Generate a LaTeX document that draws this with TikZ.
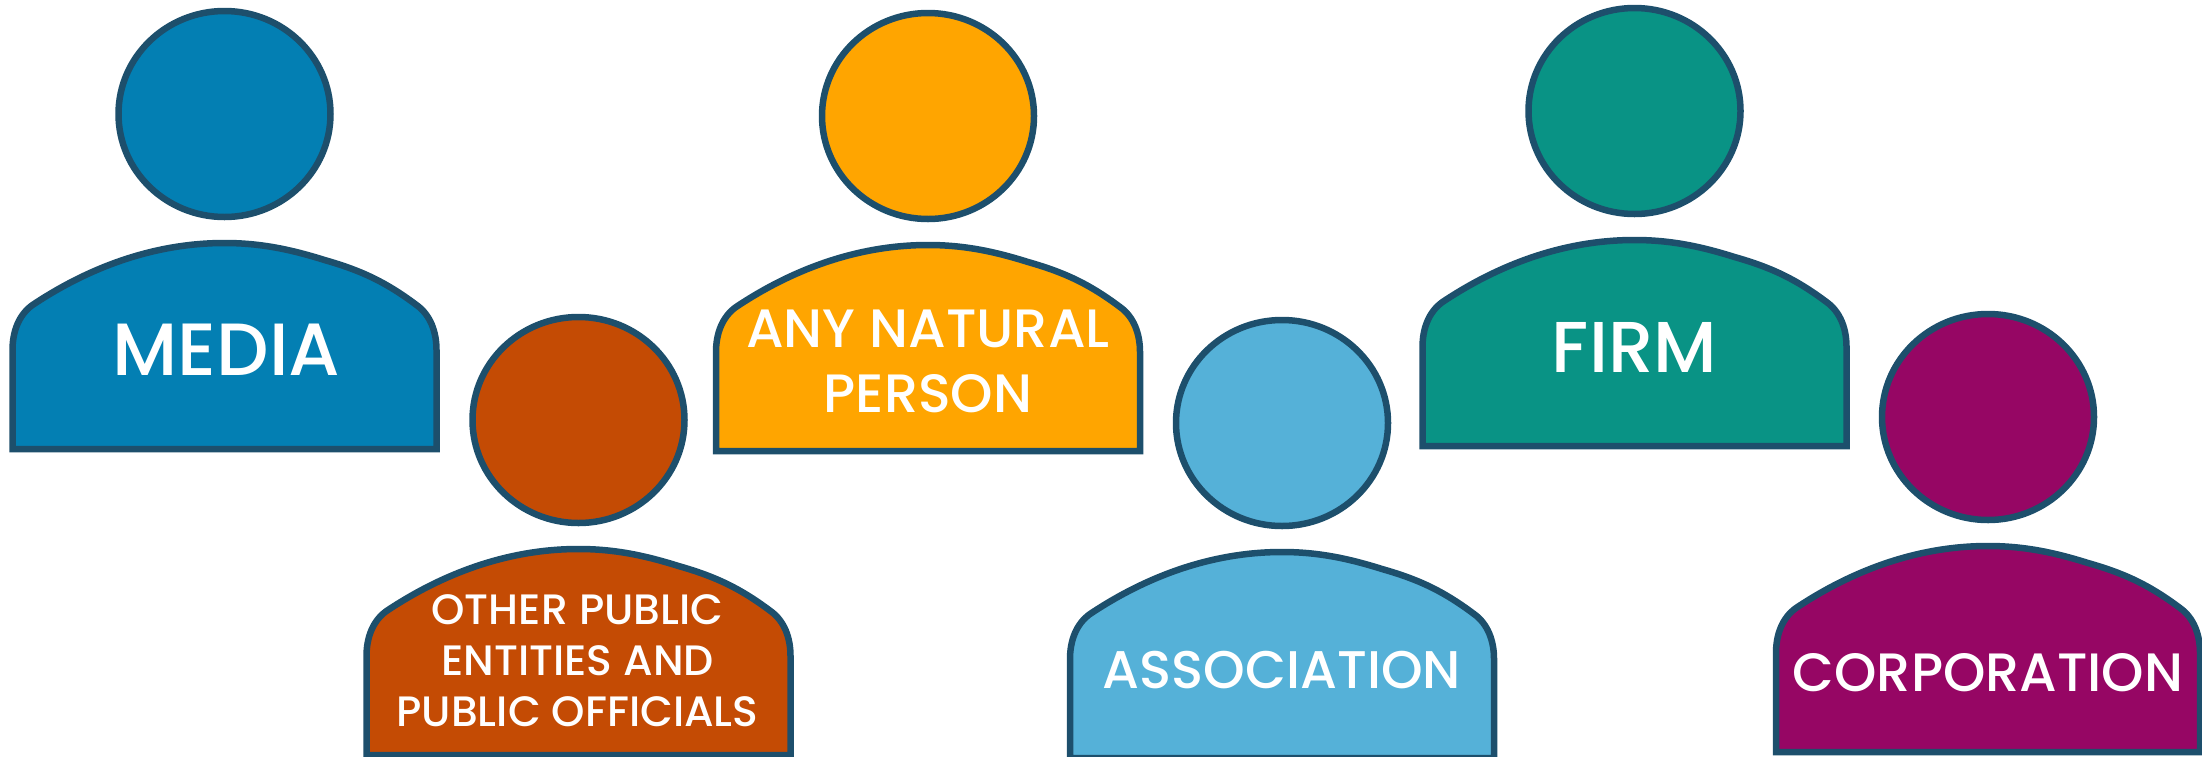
\documentclass[tikz,border=0pt]{standalone}
\usepackage{fontspec}
\setmainfont{Poppins Medium}
\definecolor{edgeblue}{HTML}{1D4F6C}
\definecolor{cmedia}{HTML}{037FB3}
\definecolor{cnatural}{HTML}{FFA500}
\definecolor{cfirm}{HTML}{099385}
\definecolor{cother}{HTML}{C44B04}
\definecolor{cassoc}{HTML}{55B1D8}
\definecolor{ccorp}{HTML}{960664}
\tikzset{
  personpart/.style={draw=edgeblue,line width=6.5pt,line join=miter},
  personlabel/.style={text=white,align=center,inner sep=0pt},
}
% #1 name, #2 cx, #3 cy (of head), #4 colour, #5 font size, #6 baseline skip, #7 label dx, #8 label dy, #9 text
\newcommand{\personfig}[9]{%
  \begin{scope}[shift={(#2,#3)}]
    \path[personpart,fill=#4] (0,0) ellipse [x radius=106,y radius=103];
    \path[personpart,fill=#4] (-212,335) -- (-212,236)
      .. controls (-212,218) and (-206,201) .. (-192,191)
      .. controls (-135,153) and (-70,129) .. (0,129)
      .. controls (35,129) and (65,135) .. (100,146)
      .. controls (135,156) and (160,167) .. (192,191)
      .. controls (206,201) and (212,218) .. (212,236)
      -- (212,335) -- cycle;
    \node[personlabel,font=\fontsize{#5}{#6}\selectfont] (#1) at (#7,#8) {#9};
  \end{scope}}
\begin{document}
\begin{tikzpicture}[x=1pt,y=-1pt]
\useasboundingbox (0,0) rectangle (2202,756);
\clip (0,0) rectangle (2202,756);
\personfig{media}{224.5}{114}{cmedia}{74}{100}{2}{236}{MEDIA}
\personfig{natural}{928}{116}{cnatural}{54}{65}{0}{245}{ANY NATURAL\\PERSON}
\personfig{firm}{1634.5}{111}{cfirm}{72}{100}{0}{236}{FIRM}
\personfig{other}{578.5}{420}{cother}{42.5}{51}{-1}{241}{OTHER PUBLIC\\ENTITIES AND\\PUBLIC OFFICIALS}
\personfig{assoc}{1282}{423}{cassoc}{53}{66}{0}{247}{ASSOCIATION}
\personfig{corp}{1988}{417}{ccorp}{54}{66}{0}{256}{CORPORATION}
\end{tikzpicture}
\end{document}
